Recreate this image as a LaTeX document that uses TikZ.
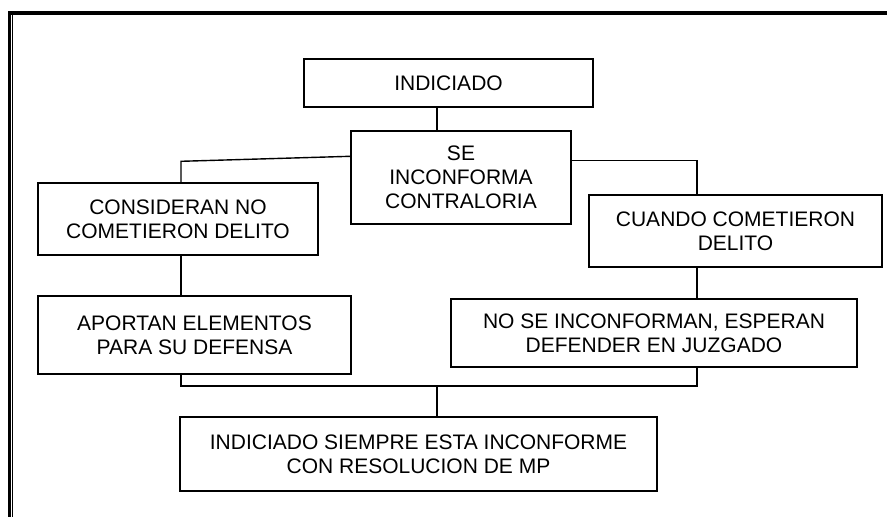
\documentclass[tikz,border=0pt]{standalone}
\usepackage{fontspec}
\setmainfont{Liberation Sans}
\usepackage{tikz}
\usetikzlibrary{positioning, calc}

\tikzset{
    box/.style={draw, line width=1.4pt, align=center, inner sep=0pt,
        font=\fontsize{21}{24}\selectfont},
    link/.style={line width=1.4pt}
}

\begin{document}
\begin{tikzpicture}[x=1pt, y=-1pt]
    \useasboundingbox (0,0) rectangle (887,517);

    % Page border
    \draw[line width=4pt] (8,13) -- (887,13);
    \draw[line width=3pt] (9.5,11) -- (9.5,517);
    \draw[line width=1pt] (12.5,15) -- (12.5,517);

    % Boxes
    \node[box, minimum width=289pt, minimum height=48pt] (ind) at (448.5,83) {INDICIADO};
    \node[box, minimum width=220pt, minimum height=93pt] (se) at (461,177.5) {SE\\INCONFORMA\\CONTRALORIA};
    \node[box, minimum width=280pt, minimum height=72pt] (cons) at (178,219) {CONSIDERAN NO\\COMETIERON DELITO};
    \node[box, minimum width=313pt, minimum height=78pt] (apor) at (194.5,335) {APORTAN ELEMENTOS\\PARA SU DEFENSA};
    \node[box, minimum width=293pt, minimum height=72pt] (cuando) at (735.5,231) {CUANDO COMETIERON\\DELITO};
    \node[box, minimum width=406pt, minimum height=68pt] (nose) at (654,333) {NO SE INCONFORMAN, ESPERAN\\DEFENDER EN JUZGADO};
    \node[box, minimum width=477pt, minimum height=74pt] (fin) at (418.5,454) {INDICIADO SIEMPRE ESTA INCONFORME\\CON RESOLUCION DE MP};

    % Connector lanes
    \coordinate (lx) at (181,0);
    \coordinate (rx) at (697,0);
    \coordinate (bus) at (437,386);

    % Top
    \draw[link] (ind.south -| bus) -- (se.north -| bus);

    % Left branch
    \draw[link] (cons.north -| lx) -- ++(0,-21) -- ([yshift=-26pt]se.north west);
    \draw[link] (cons.south -| lx) -- (apor.north -| lx);

    % Right branch
    \draw[link] ([yshift=-30pt]se.north east) -| (cuando.north -| rx);
    \draw[link] (cuando.south -| rx) -- (nose.north -| rx);

    % Bottom join
    \draw[link] (apor.south -| lx) -- (lx |- bus) -- (rx |- bus) -- (nose.south -| rx);
    \draw[link] (bus) -- (fin.north -| bus);
\end{tikzpicture}
\end{document}
